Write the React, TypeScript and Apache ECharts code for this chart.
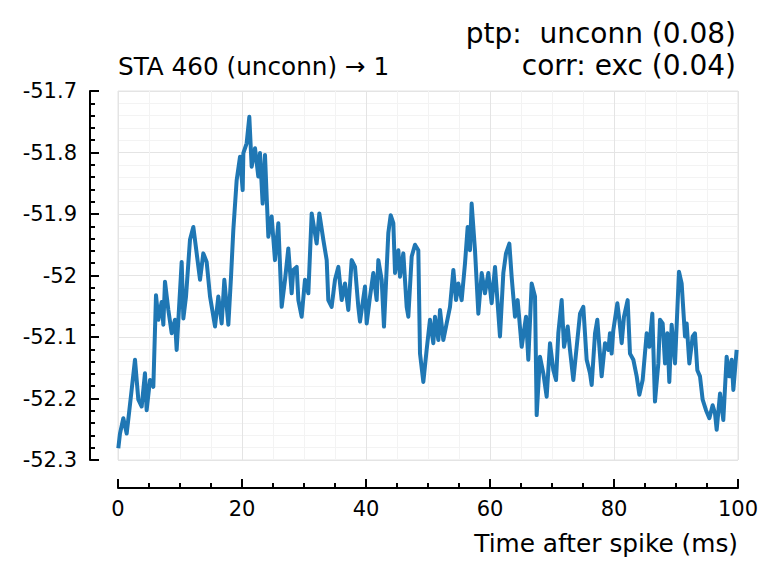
import React, { useEffect, useRef } from "react";
import * as echarts from "echarts";

const timeMs = [
  0.05, 0.32, 0.86, 1.4, 1.83, 2.2, 2.74, 3.28, 3.82, 4.35, 4.62, 5.16, 5.7, 6.13, 6.51, 7.04, 7.31, 7.58, 8.12, 8.66,
  9.19, 9.46, 10.27, 10.54, 10.97, 11.61, 12.15, 12.69, 13.23, 13.76, 14.3, 14.84, 15.65, 16.18, 16.72, 17.15, 17.8,
  18.23, 18.6, 19.14, 19.68, 20.11, 20.22, 20.75, 21.18, 21.56, 22.1, 22.63, 22.9, 23.33, 23.71, 23.98, 24.25, 24.78,
  25.32, 25.86, 26.4, 26.94, 27.47, 28.01, 28.28, 28.82, 29.09, 29.62, 30.16, 30.7, 31.24, 32.04, 32.47, 33.12, 33.66,
  33.92, 34.46, 35.0, 35.54, 36.08, 36.61, 37.15, 37.69, 38.23, 38.76, 39.03, 39.84, 40.11, 40.65, 41.18, 41.72, 41.99,
  42.53, 42.9, 43.6, 43.98, 44.41, 44.68, 45.22, 45.48, 46.02, 46.56, 46.83, 47.37, 47.9, 48.44, 48.71, 49.25, 49.78,
  50.32, 50.86, 51.13, 51.67, 51.94, 52.47, 53.01, 53.55, 54.09, 54.52, 54.89, 55.43, 55.97, 56.4, 56.77, 57.04, 57.58,
  58.12, 58.66, 59.19, 59.73, 60.27, 60.81, 61.61, 62.15, 62.58, 63.12, 63.49, 64.03, 64.46, 65.11, 65.81, 66.18, 66.72,
  67.26, 67.53, 68.06, 68.6, 69.14, 69.68, 70.22, 70.65, 71.02, 71.56, 71.94, 72.53, 72.9, 73.44, 73.87, 74.52, 75.05,
  75.59, 76.13, 76.4, 76.94, 77.31, 78.01, 78.55, 79.09, 79.35, 79.62, 79.89, 80.54, 80.86, 81.24, 81.61, 82.2, 82.58,
  83.12, 83.66, 84.09, 84.62, 85.27, 85.7, 86.18, 86.61, 87.15, 87.42, 87.85, 88.23, 88.6, 88.92, 89.3, 89.84, 90.48,
  90.91, 91.45, 91.72, 92.15, 92.69, 93.06, 93.44, 93.87, 94.3, 94.84, 95.38, 95.91, 96.29, 96.56, 97.1, 97.63, 98.17,
  98.6, 98.98, 99.25, 99.78,
];

const staMv = [
  -52.281, -52.257, -52.232, -52.257, -52.219, -52.186, -52.137, -52.202, -52.213, -52.159, -52.219, -52.17, -52.181,
  -52.032, -52.072, -52.043, -52.08, -52.01, -52.056, -52.094, -52.072, -52.121, -51.978, -52.07, -52.034, -51.942,
  -51.921, -51.964, -52.007, -51.964, -51.978, -52.034, -52.083, -52.034, -52.078, -52.007, -52.08, -52.002, -51.926,
  -51.845, -51.807, -51.861, -51.801, -51.785, -51.742, -51.823, -51.793, -51.839, -51.801, -51.883, -51.804, -51.872,
  -51.937, -51.904, -51.975, -51.915, -52.051, -52.007, -51.956, -52.029, -51.991, -51.986, -52.04, -52.067, -52.007,
  -52.029, -51.899, -51.948, -51.899, -51.942, -51.975, -52.04, -52.051, -52.007, -51.986, -52.04, -52.013, -52.056,
  -51.975, -51.986, -52.051, -52.075, -52.018, -52.078, -52.034, -51.996, -52.04, -51.975, -52.007, -52.083, -51.931,
  -51.902, -51.915, -51.996, -51.959, -52.002, -51.964, -52.051, -52.067, -51.969, -51.95, -51.959, -52.127, -52.173,
  -52.121, -52.072, -52.11, -52.067, -52.105, -52.056, -52.105, -52.078, -52.051, -51.991, -52.04, -52.013, -52.04,
  -51.98, -51.921, -51.959, -51.883, -51.959, -52.062, -51.996, -52.029, -51.996, -52.045, -51.986, -52.099, -51.996,
  -51.964, -51.948, -52.002, -52.067, -52.04, -52.116, -52.067, -52.137, -52.013, -52.034, -52.227, -52.132, -52.159,
  -52.197, -52.11, -52.154, -52.17, -52.094, -52.04, -52.116, -52.083, -52.121, -52.17, -52.127, -52.062, -52.051,
  -52.137, -52.159, -52.178, -52.094, -52.072, -52.164, -52.11, -52.121, -52.094, -52.127, -52.089, -52.045, -52.072,
  -52.11, -52.067, -52.04, -52.127, -52.137, -52.164, -52.194, -52.17, -52.094, -52.116, -52.062, -52.205, -52.143,
  -52.072, -52.078, -52.143, -52.094, -52.173, -52.08, -52.143, -51.994, -52.013, -52.099, -52.078, -52.143, -52.099,
  -52.094, -52.154, -52.164, -52.202, -52.219, -52.232, -52.211, -52.224, -52.251, -52.192, -52.235, -52.132, -52.164,
  -52.137, -52.186, -52.121,
];

const titleText = "STA 460 (unconn) \u2192 1";
const annotLines = ["ptp:  unconn (0.08)", "corr: exc (0.04)"];
const xLabel = "Time after spike (ms)";

const FONT = "DejaVu Sans";

export default function App() {
  const ref = useRef<HTMLDivElement>(null);
  useEffect(() => {
    if (!ref.current) return;
    const chart = echarts.init(ref.current, null, { renderer: "svg" });
    const data = timeMs.map((t, i) => [t, staMv[i]]);
    chart.setOption({
      animation: false,
      backgroundColor: "#ffffff",
      grid: {
        left: 118,
        top: 91,
        width: 620,
        height: 369,
        show: true,
        borderColor: "#e4e4e4",
        borderWidth: 1,
        containLabel: false,
      },
      xAxis: {
        type: "value",
        min: 0,
        max: 100,
        interval: 20,
        offset: 28,
        axisLine: { show: true, onZero: false, lineStyle: { color: "#000", width: 2 } },
        axisTick: { show: true, inside: true, length: 9, lineStyle: { color: "#000", width: 2 } },
        minorTick: { show: true, splitNumber: 4, length: 5, lineStyle: { color: "#000", width: 2 } },
        splitLine: { show: true, lineStyle: { color: "#e4e4e4", width: 1 } },
        minorSplitLine: { show: true, lineStyle: { color: "#f3f3f3", width: 1 } },
        axisLabel: { color: "#000", fontFamily: FONT, fontSize: 21, margin: 10 },
      },
      yAxis: {
        type: "value",
        min: -52.3,
        max: -51.7,
        interval: 0.1,
        offset: 28,
        axisLine: { show: true, onZero: false, lineStyle: { color: "#000", width: 2 } },
        axisTick: { show: true, inside: true, length: 9, lineStyle: { color: "#000", width: 2 } },
        minorTick: { show: true, splitNumber: 5, length: 5, lineStyle: { color: "#000", width: 2 } },
        splitLine: { show: true, lineStyle: { color: "#e4e4e4", width: 1 } },
        minorSplitLine: { show: true, lineStyle: { color: "#f3f3f3", width: 1 } },
        axisLabel: {
          color: "#000",
          fontFamily: FONT,
          fontSize: 21,
          margin: 13,
          formatter: (v: number) => String(Math.round(v * 10) / 10),
        },
      },
      series: [
        {
          type: "line",
          data,
          showSymbol: false,
          symbol: "none",
          lineStyle: { color: "#1f77b4", width: 4, join: "round" },
          clip: true,
        },
      ],
      graphic: [
        {
          type: "text",
          x: 118,
          y: 66,
          style: { text: titleText, font: `24.7px "${FONT}"`, fill: "#000", align: "left", verticalAlign: "middle" },
        },
        {
          type: "text",
          x: 736,
          y: 33,
          style: { text: annotLines[0], font: `28px "${FONT}"`, fill: "#000", align: "right", verticalAlign: "middle" },
        },
        {
          type: "text",
          x: 736,
          y: 65,
          style: { text: annotLines[1], font: `28px "${FONT}"`, fill: "#000", align: "right", verticalAlign: "middle" },
        },
        {
          type: "text",
          x: 738,
          y: 543,
          style: { text: xLabel, font: `24.8px "${FONT}"`, fill: "#000", align: "right", verticalAlign: "middle" },
        },
      ],
    });
    return () => chart.dispose();
  }, []);
  return <div ref={ref} style={{ width: 779, height: 576, position: "absolute", left: 0, top: 0 }} />;
}
